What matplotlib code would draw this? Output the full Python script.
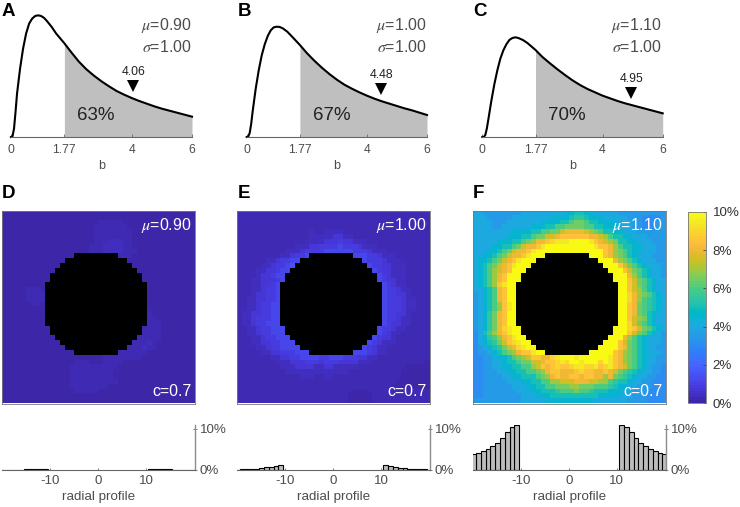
import numpy as np
import matplotlib
matplotlib.use('Agg')
import matplotlib.pyplot as plt
from matplotlib.colors import ListedColormap, Normalize
from matplotlib.cm import ScalarMappable

plt.rcParams['font.family'] = ['Liberation Sans', 'DejaVu Sans']
plt.rcParams['mathtext.fontset'] = 'stix'

W, H = 740, 507
GREY = '#4d4d4d'

# top row: curve
b_vals = [0, .05, .1, .15, .2, .3, .4, .5, .6, .7, .8, .9, 1, 1.1, 1.2, 1.35, 1.5, 1.77,
          2, 2.25, 2.5, 2.75, 3, 3.25, 3.5, 3.75, 4, 4.25, 4.5, 4.75, 5, 5.25, 5.5, 5.75, 6]
density_a = [0, 2, 25, 75, 130, 205, 265, 310, 340, 355, 363, 365, 363, 357, 347, 330, 310, 281,
             254, 226, 203, 184, 167, 152, 138, 127, 117, 108, 100, 92, 85, 79, 73, 67, 61]
density_b = [0, 1, 12, 40, 78, 145, 200, 245, 278, 303, 320, 329, 331, 330, 326, 316, 302, 276,
             252, 229, 208, 189, 172, 157, 145, 134, 124, 115, 107, 100, 93, 86, 80, 73, 66]
density_c = [0, 0, 6, 25, 52, 108, 158, 200, 235, 260, 278, 291, 297, 299, 297, 291, 282, 261,
             240, 221, 203, 186, 170, 156, 144, 134, 124, 116, 108, 101, 95, 89, 83, 77, 71]
mus = ['0.90', '1.00', '1.10']
sigmas = ['1.00', '1.00', '1.00']
medians = [4.06, 4.48, 4.95]
shaded = ['63%', '67%', '70%']
cut = 1.77

# heatmaps: one letter per cell, a is the first entry of the panel's levels, # = no data
levels_d = [0, .08, .16, .24, .32, .40]
levels_e = [0, .12, .2, .3, .45, .65, .9, 1.2, 1.5]
levels_f = [0, .5, 1, 1.5, 2, 2.5, 3, 3.5, 4, 4.5, 5, 5.5, 6, 6.5, 7, 7.5, 8, 8.5, 9, 9.5, 10]
map_d = [
    'bbbbbbbbbbbbbbbbbbbbbbbbbbbbbbbbbbbbbbbb',
    'bbbbbbbbbbbbbbbbbbbbbbbbbbbbbbbbbbbbbbbb',
    'bbbbbbbbbbbbbbbbbbbbcccccbbbbbbbbbbbbbbb',
    'bbbbbbbbbbbbbbbbbbbcccccccbbbbbbbbbbbbbb',
    'bbbbbbbbbbbbbbbbbbbcccdddccbbbbbbbbbbbbb',
    'bbbbbbbbbbbbbbbbbbbccddddccbbbbbbbbbbbbb',
    'bbbbbbbbbbbbbbbbbbbcddeeedcbbbbbbbbbbbbb',
    'bbbbbbbbbbbbbbbbbbccdeeeedcbbbbbbbbbbbbb',
    'bbbbbbbbbbbbbbbbbbccdeeeedccbbbbbbbbbbbb',
    'bbbbbbbbbbbbbbb#########cccbbbbbbbbbbbbb',
    'bbbbbbbbbbbbb#############bbbbbbbbbbbbbb',
    'bbbbbbbbbbbb###############bbbbbbbbbbbbb',
    'bbbbbbbbbbb#################bbbbbbbbbbbb',
    'bbbbbbbbbb###################bbbbbbbbbbb',
    'bbbbbbbbbb###################bbbbbbbbbbb',
    'bbbbbbbbb#####################bbbbbbbbbb',
    'bbbbbcccb#####################bbbbbbbbbb',
    'bbbbbcccc#####################bbbbbbbbbb',
    'bbbbbcccc#####################bbbbbbbbbb',
    'bbbbbbccb#####################bbbbbbbbbb',
    'bbbbbbbbb#####################bbbbbbbbbb',
    'bbbbbbbbb#####################cbbbbbbbbb',
    'bbbbbbbbb#####################ccbbbbbbbb',
    'bbbbbbbbb#####################cccbbbbbbb',
    'bbbbbbbbbb###################ccccbbbbbbb',
    'bbbbbbbbbb###################cdccbbbbbbb',
    'bbbbbbbbbbb#################cddccbbbbbbb',
    'bbbbbbbbbbbb###############ccdecbbbbbbbb',
    'bbbbbbbbbbbbb#############ccdedcbbbbbbbb',
    'bbbbbbbbbbbbbbb#########cccddcbbbbbbbbbb',
    'bbbbbbbbbbbbbbbbbbbbbccccccccbbbbbbbbbbb',
    'bbbbbbbbbbbbbbbcccbbbccccbbbbbbbbbbbbbbb',
    'bbbbbbbbbbbbbbccccccccccbbbbbbbbbbbbbbbb',
    'bbbbbbbbbbbbbbcccccccccbbbbbbbbbbbbbbbbb',
    'bbbbbbbbbbbbbbcccdcccccbbbbbbbbbbbbbbbbb',
    'bbbbbbbbbbbbbbccccdcccccbbbbbbbbbbbbbbbb',
    'bbbbbbbbbbbbbbccccccccbbbbbbbbbbbbbbbbbb',
    'bbbbbbbbbbbbbbbcccccbbbbbbbbbbbbbbbbbbbb',
    'bbbbbbbbbbbbbbbbbbbbbbbbbbbbbbbbbbbbbbbb',
    'bbbbbbbbbbbbbbbbbbbbbbbbbbbbbbbbbbbbbbbb',
]
map_e = [
    'cccccccccccccccccccdddcccccccccccccccccc',
    'cccccccccccccccccdddddcccccccccccccccccc',
    'ccccccccccccddcdddddddddcccccccccccccccc',
    'cccccccccccccddddddddddddccccccccccccccc',
    'cccccccccccddddeddeeeeddddcccccccccccccc',
    'ccccccccccdddddeeeeeffeedddddccccccccccc',
    'ccccccccddddddeeeefffgffeeedddddcccccccc',
    'cccccccdddddeeeffgggghgggfeeeddddccccccc',
    'ccccccddddeeefgggghhhhhhgggfeeedddcccccc',
    'cccccddddeefggh#########hhhggfeeedddcccc',
    'cccdddeefgghh#############hgggfeeedddccc',
    'cccddeefgghi###############hggffeeedddcc',
    'ccddeeffghh#################hgffeeedddcc',
    'ccddeffghh###################hgfeeedddcc',
    'cddeefffgh###################hgffeeddccc',
    'cddeeffgh#####################hgfeeddccc',
    'cddeefggh#####################hggfeedddc',
    'cddeffggh#####################hggffeddcc',
    'cdeeffggh#####################hgggfeedcc',
    'cdeefgghh#####################hgggfeedcc',
    'ddeefgghh#####################hgggfeedcc',
    'deeffgghh#####################hggffeddcc',
    'deefggghh#####################hggfeeddcc',
    'deefgghhh#####################hgffeedccc',
    'ddeefgghhh###################hggfeedcccc',
    'cdeefgghhh###################hgfeeddcccc',
    'cddeefgghhh#################hgffedddcccc',
    'cddeeffgghhh###############hgfeeedddcccc',
    'ccddeefgghhhh#############hgfeedddcccccc',
    'ccdddeeffggghhh#########hhhgfeedddcccccc',
    'cccddddeeffgghhhhgghhhgggffeedddcccccccc',
    'cccdddddeeefffgggfgggffffeeedddccccccccb',
    'ccccdddddeeeffffeeffeeeeeddddccccccbbbbb',
    'ccccccddddeeeeeeeeeeeeeddddcccccccbbbbbb',
    'cccccccddddddeeeddeedddddcccccccccbbbbbb',
    'ccccccccdddddddddddddddddccccccccbbbbbbb',
    'ccccccccccdddddddcddddddccccccccbbbbbbbb',
    'ccccccccccdddddddddddcccbbbccccccccccccc',
    'cccccccccccdddddddddcccbbbbbcccccccccccc',
    'cccccccccccccccdddcccccbbbbbcccccccccccc',
]
map_f = [
    'iihhhhhhhhiiiiiiiiijjkkjjiiiiihhhhhhhhhh',
    'iiihhhhhiiiiiiiijjjjkllkjjjiiiiihhhggggh',
    'iiiihhhiiiiiiijjjjkkmnnmkkjjjiiiihhggghh',
    'iiiihhiiiiiijjjkkmmnnnnmmkkjjjiiihhggghh',
    'iiiiiiiijjjjkkmmnnpqqqqponmkkjjiiihhhhhh',
    'iiiiiiijjjkkmnnppqrrrrrrqqpomkkjjiiihhhh',
    'iiiiijjjkkmnoqqrstttuuuutrqponkkjjiiihhh',
    'iiiijjkkmnpqqrtuuuuuuuuuutrrqomkkjjiiihh',
    'iiijjkmnpqqrtuuuuuuuuuuuuuurqonmkjjiiihh',
    'iijjkmnpqqrtuuu#########uuurqonmkjiiihhh',
    'ijjkmnpqrtuuu#############uuuqonmkjiiihh',
    'ijkmnpqrtuuu###############uuurpnmkjiiih',
    'ijkmopqruuu#################uuurpnmkjiihh',
    'ijkmoqruuu###################uuuqomkjiih',
    'ijkmoqruuu###################uuurpnmkjii',
    'ijkmortuu#####################uurpnmkjii',
    'iijkmqruu#####################uurpomkjii',
    'hijkmqruu#####################uusqonmkji',
    'hijkmqruu#####################uusqomlkji',
    'hijkmortu#####################uurqnmlkji',
    'hijkmortu#####################uurqnmlkji',
    'hijlnqruu#####################uurqnmkjii',
    'hijlnqruu#####################uurponkjii',
    'hijlnqruu#####################uuspnmkjii',
    'hijlnqstuu###################uuusrpnmkji',
    'gikmoqrtuu###################uuurpnmkjih',
    'gijlmoqrtuu#################uuuqomkjiiih',
    'gijklnprstuu###############uuurpnmkjiiih',
    'ghijklnpqstuu#############uuuurqnmkjiihh',
    'ghhijkmnoqrrtuu#########uuuuurqonmkjiiih',
    'gghhijjkmnoprrqqstuuutuuuuuutrqonmkjiihh',
    'gghhiijkkmnnppqrrstsuutuuusutrqonmkjiihh',
    'gghhiijjkkmmoprqrsrrsttsstrstrqpnmkjihhg',
    'gghhhiijjkkmmnoqrrqqqrsrrqqrqpnmlkjiihhg',
    'gghhhhiijjkkkmnoqrqqrrqrrqqoqnmlkjiihhgg',
    'gghhhhhiiijjkkmmoopppqqqppoomlkkjiihhggg',
    'gghhhhhhiiijjkkmmnnnoonnnmmmlkjjiihhhggg',
    'gghhhhhhhiiijjkkklmmmnmmlkkkjjjiihhhgggg',
    'gghhhhhhhhiiijjjkkkkkkkkkkjjjjiiihhhgggg',
    'hhhhhhhhhhiiiiijjjjjjjjjjiiiiiiihhhhgggg',
]
map_labels = ['0.90', '1.00', '1.10']

# radial profiles: value at radius 11..20 on each side
radii = [11, 12, 13, 14, 15, 16, 17, 18, 19, 20]
prof_d_l = [.15, .13, .1, .08, .05, .03, .02, .01, .01, .01]
prof_d_r = [.15, .13, .1, .08, .05, .03, .02, .01, .01, .01]
prof_e_l = [1.1, 1.0, .7, .55, .35, .25, .15, .1, .05, .02]
prof_e_r = [1.1, .9, .7, .5, .35, .25, .15, .1, .05, .02]
prof_f_l = [10.9, 10.4, 9.1, 7.7, 6.5, 5.7, 5.0, 4.5, 4.0, 3.8]
prof_f_r = [10.9, 10.4, 9.1, 7.8, 6.5, 5.7, 5.0, 4.5, 4.2, 3.8]

# parula
parula = ListedColormap([
    [0.2422, 0.1504, 0.6603], [0.2504, 0.1650, 0.7076], [0.2578, 0.1818, 0.7511], [0.2647, 0.1978, 0.7952],
    [0.2706, 0.2147, 0.8364], [0.2751, 0.2342, 0.8710], [0.2783, 0.2559, 0.8991], [0.2803, 0.2782, 0.9221],
    [0.2813, 0.3006, 0.9414], [0.2810, 0.3228, 0.9579], [0.2795, 0.3447, 0.9717], [0.2760, 0.3667, 0.9829],
    [0.2699, 0.3892, 0.9906], [0.2602, 0.4123, 0.9952], [0.2440, 0.4358, 0.9988], [0.2206, 0.4603, 0.9973],
    [0.1963, 0.4847, 0.9892], [0.1834, 0.5074, 0.9798], [0.1786, 0.5289, 0.9682], [0.1764, 0.5499, 0.9520],
    [0.1687, 0.5703, 0.9359], [0.1540, 0.5902, 0.9218], [0.1460, 0.6091, 0.9079], [0.1380, 0.6276, 0.8973],
    [0.1248, 0.6459, 0.8883], [0.1113, 0.6635, 0.8763], [0.0952, 0.6798, 0.8598], [0.0689, 0.6948, 0.8394],
    [0.0297, 0.7082, 0.8163], [0.0036, 0.7203, 0.7917], [0.0067, 0.7312, 0.7660], [0.0433, 0.7411, 0.7394],
    [0.0964, 0.7500, 0.7120], [0.1408, 0.7584, 0.6842], [0.1717, 0.7670, 0.6554], [0.1938, 0.7758, 0.6251],
    [0.2161, 0.7843, 0.5923], [0.2470, 0.7918, 0.5567], [0.2906, 0.7973, 0.5188], [0.3406, 0.8008, 0.4789],
    [0.3909, 0.8029, 0.4354], [0.4456, 0.8024, 0.3909], [0.5044, 0.7993, 0.3480], [0.5616, 0.7942, 0.3045],
    [0.6174, 0.7876, 0.2612], [0.6720, 0.7793, 0.2227], [0.7242, 0.7698, 0.1910], [0.7738, 0.7598, 0.1646],
    [0.8203, 0.7498, 0.1535], [0.8634, 0.7406, 0.1596], [0.9035, 0.7330, 0.1774], [0.9393, 0.7288, 0.2100],
    [0.9728, 0.7298, 0.2394], [0.9956, 0.7434, 0.2371], [0.9970, 0.7659, 0.2199], [0.9952, 0.7861, 0.1967],
    [0.9892, 0.8136, 0.1885], [0.9786, 0.8386, 0.1766], [0.9676, 0.8639, 0.1643], [0.9610, 0.8890, 0.1537],
    [0.9597, 0.9135, 0.1423], [0.9628, 0.9373, 0.1265], [0.9691, 0.9606, 0.1064], [0.9769, 0.9839, 0.0805]])
parula.set_bad('k')

fig = plt.figure(figsize=(W / 100, H / 100), dpi=100)


def axes_px(left, top, right, bottom):
    return fig.add_axes([left / W, 1 - bottom / H, (right - left) / W, (bottom - top) / H])


def decode(rows, levels):
    # rows that came out a cell short are padded with their own last letter
    return np.array([[np.nan if ch == '#' else levels[ord(ch) - 97] for ch in row.ljust(40, row[-1])[:40]]
                     for row in rows])


# ---- top row ----
curve_axes = [(11, 192), (246.7, 427), (482.3, 662.7)]
curves = [density_a, density_b, density_c]
for i, (x0, x1) in enumerate(curve_axes):
    ax = axes_px(x0, 0, x1, 137)
    x = np.array(b_vals)
    y = np.array(curves[i])
    ax.fill_between(x[x >= cut], y[x >= cut], 0, color='#bfbfbf', lw=0)
    ax.plot(x, y, color='k', lw=1.5, clip_on=False)
    ax.set_xlim(0, 6)
    ax.set_ylim(0, 411)
    for s in ['top', 'left', 'right']:
        ax.spines[s].set_visible(False)
    ax.spines['bottom'].set_color('#666666')
    ax.spines['bottom'].set_linewidth(0.8)
    ax.set_yticks([])
    ax.set_xticks([0, cut, 4, 6])
    ax.set_xticklabels(['0', '1.77', '4', '6'], fontsize=8.8, color=GREY)
    ax.tick_params(axis='x', direction='in', length=2, width=0.6, color='#666666', pad=5)
    ax.set_xlabel('b', fontsize=9, color=GREY, labelpad=3)
    tri = np.interp(medians[i], x, y) + 37
    ax.plot([medians[i]], [tri], 'v', color='k', ms=9, mew=0)
    ax.text(medians[i], tri + 42, f'{medians[i]:.2f}', fontsize=8.8, color='#222222', ha='center', va='center')
    ax.text(2.82, 64, shaded[i], fontsize=13.5, color='#222222', ha='center', va='center')
    ax.text(5.98, 335, rf'$\mu$={mus[i]}', fontsize=11.5, color=GREY, ha='right', va='center')
    ax.text(5.98, 271, rf'$\sigma$={sigmas[i]}', fontsize=11.5, color=GREY, ha='right', va='center')

# ---- heatmaps ----
maps = [decode(map_d, levels_d), decode(map_e, levels_e), decode(map_f, levels_f)]
map_axes = [(2.3, 195), (237.3, 430), (473.3, 665.7)]
for i, (x0, x1) in enumerate(map_axes):
    ax = axes_px(x0, 211.3, x1, 403.5)
    ax.imshow(maps[i], cmap=parula, vmin=0, vmax=10, interpolation='nearest', aspect='auto')
    ax.set_xticks([])
    ax.set_yticks([])
    for s in ax.spines.values():
        s.set_color('#777777')
        s.set_linewidth(0.6)
    ax.text(0.982, 0.925, rf'$\mu$={map_labels[i]}', transform=ax.transAxes, fontsize=11.4,
            color='white', ha='right', va='center')
    ax.text(0.982, 0.06, 'c=0.7', transform=ax.transAxes, fontsize=11.4,
            color='white', ha='right', va='center')

# colour bar
cax = axes_px(688, 211.7, 705.7, 403.3)
cb = fig.colorbar(ScalarMappable(Normalize(0, 10), parula), cax=cax)
cb.set_ticks([0, 2, 4, 6, 8, 10])
cb.set_ticklabels(['0%', '2%', '4%', '6%', '8%', '10%'])
cb.ax.tick_params(direction='in', length=2, width=0.6, color='#444444', labelsize=9.6, labelcolor='#333333', pad=5)
cb.outline.set_edgecolor('#777777')
cb.outline.set_linewidth(0.6)

# ---- radial profiles ----
profiles = [(prof_d_l, prof_d_r), (prof_e_l, prof_e_r), (prof_f_l, prof_f_r)]
for i, (x0, x1) in enumerate(map_axes):
    ax = axes_px(x0, 424.7, x1, 469.7)
    left, right = profiles[i]
    ax.bar(-np.array(radii) + 0.15, left, width=1, color='#bdbdbd', edgecolor='k', linewidth=0.8)
    ax.bar(radii, right, width=1, color='#bdbdbd', edgecolor='k', linewidth=0.8)
    ax.set_xlim(-19.9, 20.2)
    ax.set_ylim(0, 11)
    ax.spines['top'].set_visible(False)
    ax.spines['left'].set_visible(False)
    ax.spines['right'].set_color('#8c8c8c')
    ax.spines['right'].set_linewidth(1.0)
    ax.spines['bottom'].set_color('#666666')
    ax.spines['bottom'].set_linewidth(0.8)
    ax.yaxis.tick_right()
    ax.set_yticks([0, 10])
    ax.set_yticklabels(['0%', '10%'], fontsize=9.6, color=GREY)
    ax.tick_params(axis='y', direction='inout', length=3, width=0.6, color='#666666', pad=2)
    ax.set_xticks([-10, 0, 10])
    ax.set_xticklabels(['-10', '0', '10'], fontsize=9.6, color=GREY)
    ax.tick_params(axis='x', direction='in', length=1.5, width=0.6, color='#666666', pad=4)
    ax.set_xlabel('radial profile', fontsize=9.6, color=GREY, labelpad=3)

# panel letters
letters = [('A', 2, 12), ('B', 238, 12), ('C', 473, 12), ('D', 2, 193), ('E', 238, 193), ('F', 473, 193)]
for name, px, py in letters:
    fig.text(px / W, 1 - py / H, name, fontsize=13.5, fontweight='bold', color='k', ha='left', va='center')

fig.savefig('out.png', dpi=100)
